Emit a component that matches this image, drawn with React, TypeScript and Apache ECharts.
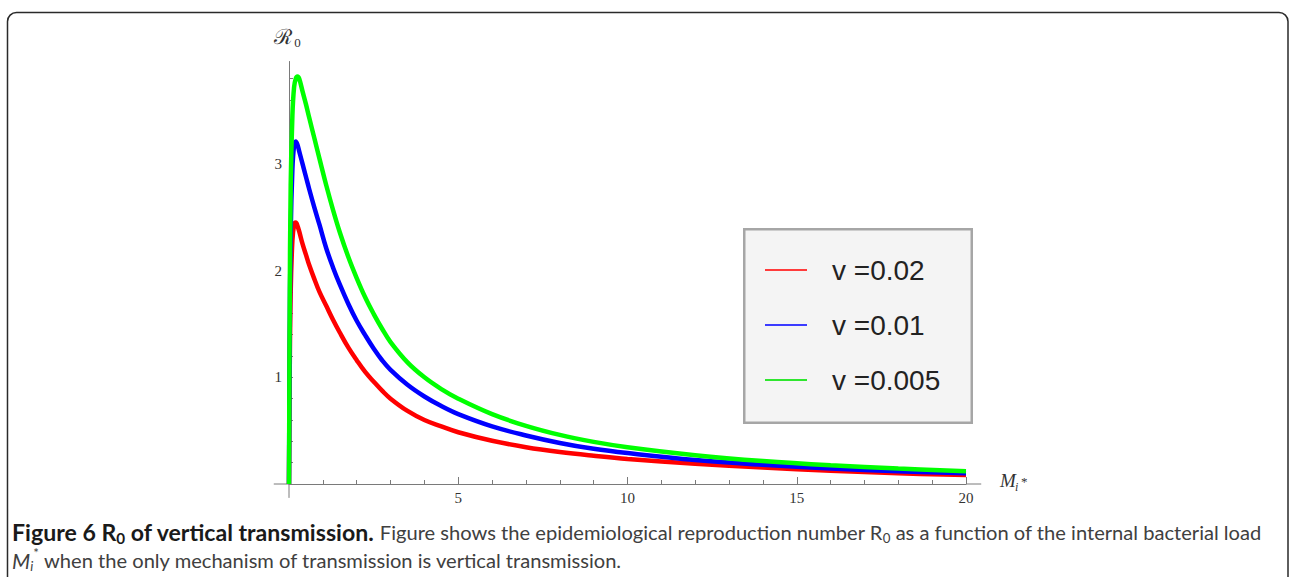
import React, { useEffect, useRef } from 'react';
import * as echarts from 'echarts';

// ---- data ----
const mValues = [0, 0.02, 0.05, 0.1, 0.15, 0.2, 0.25, 0.3, 0.4, 0.5, 0.6, 0.75, 0.9, 1.1, 1.3, 1.5, 1.75, 2, 2.25, 2.5, 2.75, 3, 3.5, 4, 4.5, 5, 6, 7, 8, 9, 10, 12, 14, 16, 18, 20];
const redValues = [0, 1.0, 1.8, 2.28, 2.43, 2.45, 2.42, 2.37, 2.25, 2.15, 2.05, 1.92, 1.8, 1.67, 1.54, 1.42, 1.28, 1.16, 1.05, 0.96, 0.875, 0.8, 0.685, 0.6, 0.54, 0.485, 0.405, 0.345, 0.3, 0.265, 0.235, 0.19, 0.155, 0.125, 0.1, 0.085];
const blueValues = [0, 1.3, 2.35, 2.95, 3.17, 3.21, 3.18, 3.12, 3.0, 2.88, 2.76, 2.59, 2.43, 2.21, 2.03, 1.87, 1.69, 1.53, 1.395, 1.27, 1.16, 1.07, 0.93, 0.82, 0.73, 0.655, 0.54, 0.455, 0.385, 0.33, 0.29, 0.225, 0.18, 0.145, 0.12, 0.1];
const greenValues = [0, 1.6, 2.8, 3.45, 3.72, 3.8, 3.82, 3.8, 3.68, 3.56, 3.43, 3.24, 3.05, 2.8, 2.57, 2.36, 2.13, 1.93, 1.75, 1.595, 1.455, 1.33, 1.14, 1.0, 0.89, 0.8, 0.655, 0.545, 0.46, 0.395, 0.345, 0.27, 0.215, 0.175, 0.145, 0.12];
const seriesNames = ['v =0.02', 'v =0.01', 'v =0.005'];
const seriesColors = ['#ff0000', '#0000ff', '#00ff00'];
const legendColors = ['#ff3b3b', '#3b3bff', '#2fe62f'];
const xTickLabels = [5, 10, 15, 20];
const xMinorTicks = [1, 2, 3, 4, 5, 6, 7, 8, 9, 10, 11, 12, 13, 14, 15, 16, 17, 18, 19, 20];
const yTickLabels = [1, 2, 3];
const yMinorTicks = [0.2, 0.4, 0.6, 0.8, 1, 1.2, 1.4, 1.6, 1.8, 2, 2.2, 2.4, 2.6, 2.8, 3, 3.2, 3.4, 3.6, 3.8];
const xAxisOverhang = [-0.45, 20.45];
const yAxisOverhangBottom = -0.13;

const captionBold1 = 'Figure 6 R';
const captionBoldSub = '0';
const captionBold2 = ' of vertical transmission.';
const captionReg1 = ' Figure shows the epidemiological reproduction number R';
const captionRegSub = '0';
const captionReg2 = ' as a function of the internal bacterial load';
const captionLine2 = ' when the only mechanism of transmission is vertical transmission.';

const CAP_FONT = 'Lato';

function buildCaption(): any[] {
  const canvas = document.createElement('canvas');
  const ctx = canvas.getContext('2d')!;
  const measure = (t: string, size: number, weight = 'normal', style = 'normal', family = CAP_FONT) => {
    ctx.font = `${style} ${weight} ${size}px "${family}"`;
    return ctx.measureText(t).width;
  };
  type Run = { text: string; size: number; weight?: string; style?: string; family?: string; dy?: number; color: string };
  const base = 18;
  const subRatio = 0.66;
  const boldColor = '#1a1a1a';
  const regColor = '#404040';
  const boldRuns: Run[] = [
    { text: captionBold1, size: 1, weight: 'bold', color: boldColor },
    { text: captionBoldSub, size: subRatio, weight: 'bold', color: boldColor, dy: 0.28 },
    { text: captionBold2, size: 1, weight: 'bold', color: boldColor },
  ];
  const regRuns: Run[] = [
    { text: captionReg1, size: 1, color: regColor },
    { text: captionRegSub, size: subRatio, color: regColor, dy: 0.28 },
    { text: captionReg2, size: 1, color: regColor },
  ];
  const widthOf = (runs: Run[]) => runs.reduce((s, r) => s + measure(r.text, r.size * base, r.weight, r.style), 0);
  const fsBold = (base * 363) / widthOf(boldRuns);
  const fsReg = (base * (1262 - 375)) / widthOf(regRuns);
  const out: any[] = [];
  const place = (runs: Run[], x0: number, y: number, fs: number) => {
    let x = x0;
    for (const r of runs) {
      const size = r.size * fs;
      const family = r.family || CAP_FONT;
      const lead = r.text.match(/^\s*/)![0];
      const body = r.text.slice(lead.length);
      const leadW = lead ? measure(lead, size, r.weight, r.style, family) : 0;
      out.push({
        type: 'text',
        x: x + leadW,
        y: y + (r.dy || 0) * fs,
        z: 10,
        style: {
          text: body,
          fontSize: size,
          fontFamily: family,
          fontWeight: r.weight || 'normal',
          fontStyle: r.style || 'normal',
          fill: r.color,
          align: 'left',
          verticalAlign: 'middle',
        },
      });
      x += measure(r.text, size, r.weight, r.style, family);
    }
    return x;
  };
  const xEnd = place(boldRuns, 12, 532, fsBold);
  place(regRuns, xEnd, 532, fsReg);
  place(
    [
      { text: 'M', size: 1.05, style: 'italic', color: regColor },
      { text: 'i', size: subRatio, style: 'italic', color: regColor, dy: 0.3 },
      { text: '*', size: subRatio, color: regColor, dy: -0.34 },
      { text: captionLine2, size: 1, color: regColor },
    ],
    12,
    560,
    fsReg
  );
  return out;
}

export default function App() {
  const ref = useRef<HTMLDivElement>(null);
  useEffect(() => {
    document.body.style.margin = '0';
    const chart = echarts.init(ref.current!, null, { renderer: 'svg' });
    const mk = (vals: number[]) => mValues.map((m, i) => [m, vals[i]]);
    const allSeries = [redValues, blueValues, greenValues].map((vals, i) => ({
      name: seriesNames[i],
      type: 'line',
      data: mk(vals),
      xAxisIndex: 0,
      yAxisIndex: 0,
      showSymbol: false,
      symbol: 'none',
      smooth: 0.4,
      color: seriesColors[i],
      lineStyle: { width: 4.5, color: seriesColors[i] },
      z: 3 + i,
    }));
    const axisColor = '#7a7a7a';
    const labelFont = { fontFamily: 'Liberation Serif', fontSize: 15, color: '#333' };
    const baseGraphics: any[] = [
      {
        type: 'rect',
        z: -1,
        shape: { x: 7.5, y: 12.5, width: 1280.5, height: 700, r: 9 },
        style: { fill: null, stroke: '#2a2a2a', lineWidth: 1.5 },
      },
      {
        type: 'rect',
        z: 0,
        shape: { x: 744.25, y: 229.25, width: 227.5, height: 193.5 },
        style: { fill: '#f4f4f4', stroke: '#a6a6a6', lineWidth: 2.5 },
      },
      {
        type: 'text',
        x: 283,
        y: 37,
        z: 10,
        style: { text: '\u211B', fontFamily: 'DejaVu Serif', fontSize: 21, fill: '#333', align: 'center', verticalAlign: 'middle' },
      },
      {
        type: 'text',
        x: 297.5,
        y: 42,
        z: 10,
        style: { text: '0', fontFamily: 'Liberation Serif', fontSize: 13, fill: '#333', align: 'center', verticalAlign: 'middle' },
      },
      {
        type: 'text',
        x: 1000,
        y: 480,
        z: 10,
        style: { text: 'M', fontFamily: 'Liberation Serif', fontStyle: 'italic', fontSize: 19, fill: '#333', align: 'left', verticalAlign: 'middle' },
      },
      {
        type: 'text',
        x: 1015,
        y: 487,
        z: 10,
        style: { text: 'i', fontFamily: 'Liberation Serif', fontStyle: 'italic', fontSize: 12, fill: '#333', align: 'left', verticalAlign: 'middle' },
      },
      {
        type: 'text',
        x: 1021,
        y: 481,
        z: 10,
        style: { text: '*', fontFamily: 'Liberation Serif', fontSize: 13, fill: '#333', align: 'left', verticalAlign: 'middle' },
      },
      ...buildCaption(),
    ];
    chart.setOption({
      animation: false,
      backgroundColor: '#ffffff',
      grid: { left: 289, right: 324, top: 61.5, bottom: 93 },
      xAxis: [
        {
          type: 'value',
          min: 0,
          max: 20,
          position: 'bottom',
          splitLine: { show: false },
          axisLine: { show: true, onZero: false, lineStyle: { color: axisColor, width: 1 } },
          axisTick: { show: true, inside: true, length: 4, customValues: xMinorTicks, lineStyle: { color: axisColor } },
          axisLabel: { show: true, customValues: xTickLabels, margin: 6, ...labelFont },
        },
        {
          type: 'value',
          min: 0,
          max: 20,
          position: 'bottom',
          splitLine: { show: false },
          axisLine: { show: false, onZero: false },
          axisTick: { show: true, inside: true, length: 7, customValues: xTickLabels, lineStyle: { color: axisColor } },
          axisLabel: { show: false },
        },
      ],
      yAxis: {
        type: 'value',
        min: 0,
        max: 3.96,
        splitLine: { show: false },
        axisLine: { show: true, onZero: false, lineStyle: { color: axisColor, width: 1 } },
        axisTick: { show: true, inside: true, length: 4, customValues: yMinorTicks, lineStyle: { color: axisColor } },
        axisLabel: { show: true, customValues: yTickLabels, margin: 7, ...labelFont },
      },
      legend: {
        orient: 'vertical',
        left: 765,
        top: 255,
        padding: 0,
        icon: 'rect',
        itemWidth: 42,
        itemHeight: 2,
        itemGap: 25,
        data: seriesNames.map((n, i) => ({ name: n, itemStyle: { color: legendColors[i] } })),
        textStyle: { fontFamily: 'Liberation Sans', fontSize: 28, color: '#222', lineHeight: 30, padding: [0, 0, 0, 20] },
        selectedMode: false,
      },
      graphic: baseGraphics,
      series: allSeries,
    });
    // axis line overhangs (beyond 0 and 20 on x, below 0 on y), placed via the chart's own scales
    const pLeft = chart.convertToPixel({ gridIndex: 0 }, [xAxisOverhang[0], 0]) as number[];
    const pZero = chart.convertToPixel({ gridIndex: 0 }, [0, 0]) as number[];
    const pRight = chart.convertToPixel({ gridIndex: 0 }, [xAxisOverhang[1], 0]) as number[];
    const pMax = chart.convertToPixel({ gridIndex: 0 }, [20, 0]) as number[];
    const pBelow = chart.convertToPixel({ gridIndex: 0 }, [0, yAxisOverhangBottom]) as number[];
    const ext = (a: number[], b: number[]) => ({
      type: 'line',
      z: 1,
      shape: { x1: a[0], y1: a[1], x2: b[0], y2: b[1] },
      style: { stroke: axisColor, lineWidth: 1 },
    });
    chart.setOption({
      graphic: [...baseGraphics, ext(pLeft, pZero), ext(pMax, pRight), ext(pZero, pBelow)],
    });
    return () => chart.dispose();
  }, []);
  return <div ref={ref} style={{ width: 1290, height: 577 }} />;
}
